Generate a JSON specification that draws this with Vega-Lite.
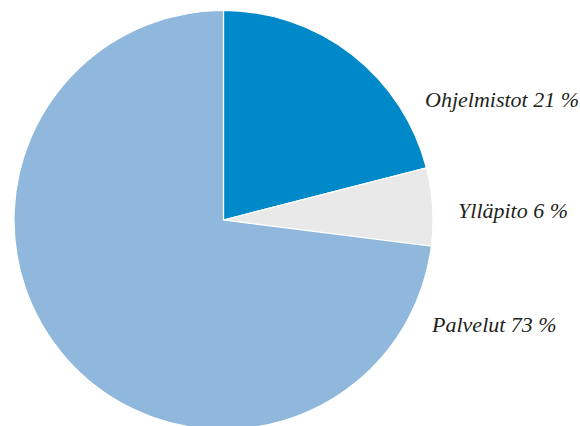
{
  "$schema": "https://vega.github.io/schema/vega-lite/v6.json",
  "width": 447,
  "height": 440,
  "padding": 0,
  "autosize": {"type": "pad"},
  "background": "white",
  "config": {"view": {"stroke": null}},
  "data": {"values": [
    {"category": "Ohjelmistot", "value": 21, "label": "Ohjelmistot 21 %"},
    {"category": "Ylläpito", "value": 6, "label": "Ylläpito 6 %"},
    {"category": "Palvelut", "value": 73, "label": "Palvelut 73 %"}
  ]},
  "transform": [
    {"window": [{"op": "row_number", "as": "idx"}]},
    {"stack": "value", "groupby": [], "sort": [{"field": "idx", "order": "ascending"}], "as": ["v0", "v1"]}
  ],
  "layer": [
    {
      "mark": {"type": "arc", "outerRadius": 209.5, "stroke": "white", "strokeWidth": 1.2},
      "encoding": {
        "theta": {"field": "v0", "type": "quantitative", "stack": null, "scale": {"domain": [0, 100]}},
        "theta2": {"field": "v1"},
        "color": {"field": "category", "type": "nominal", "legend": null,
          "scale": {"domain": ["Ohjelmistot", "Ylläpito", "Palvelut"], "range": ["#0089c9", "#e9e9e9", "#8fb8dc"]}}
      }
    },
    {
      "transform": [{"filter": "datum.category === 'Ohjelmistot'"}],
      "mark": {"type": "text", "radius": 209.5, "align": "left", "baseline": "alphabetic", "dx": -1.4, "dy": -60.9,
        "font": "Liberation Serif", "fontStyle": "italic", "fontSize": 22, "color": "#231f20"},
      "encoding": {
        "theta": {"field": "v1", "type": "quantitative", "stack": null},
        "text": {"field": "label"}
      }
    },
    {
      "transform": [{"filter": "datum.category === 'Ylläpito'"}],
      "mark": {"type": "text", "radius": 209.5, "align": "left", "baseline": "alphabetic", "dx": 26.7, "dy": -28.3,
        "font": "Liberation Serif", "fontStyle": "italic", "fontSize": 22, "color": "#231f20"},
      "encoding": {
        "theta": {"field": "v1", "type": "quantitative", "stack": null},
        "text": {"field": "label"}
      }
    },
    {
      "transform": [{"filter": "datum.category === 'Palvelut'"}],
      "mark": {"type": "text", "radius": 209.5, "align": "left", "baseline": "alphabetic", "dx": 0.7, "dy": 85.7,
        "font": "Liberation Serif", "fontStyle": "italic", "fontSize": 22, "color": "#231f20"},
      "encoding": {
        "theta": {"field": "v0", "type": "quantitative", "stack": null},
        "text": {"field": "label"}
      }
    }
  ]
}
